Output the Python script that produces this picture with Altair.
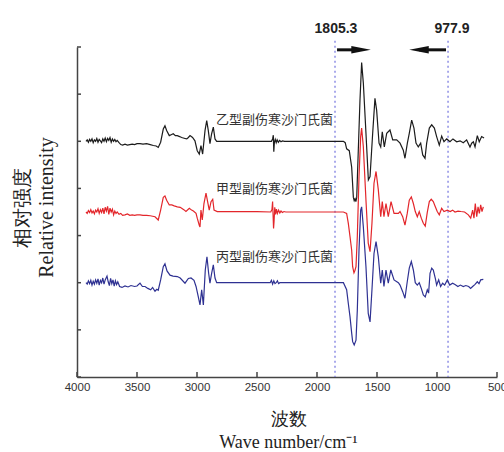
import altair as alt
import pandas as pd

# ---- data (wave number, relative intensity) ----
black_pts = [[3925,5.00],[3915,5.03],[3905,4.98],[3895,5.04],[3885,5.00],[3875,5.05],[3865,4.97],[3855,5.03],
    [3845,5.00],[3835,5.06],[3825,4.98],[3815,5.04],[3805,5.01],[3795,4.97],[3785,5.05],[3775,5.00],[3765,5.07],
    [3755,4.99],[3745,5.06],[3735,5.02],[3725,5.08],[3715,4.98],[3705,5.05],[3695,5.00],[3685,5.04],[3675,4.99],
    [3665,5.02],[3650,4.97],[3635,4.93],[3620,4.92],[3600,4.94],[3580,4.92],[3560,4.93],[3540,4.94],[3520,4.93],
    [3500,4.95],[3475,4.95],[3450,4.94],[3420,4.95],[3390,4.93],[3364,4.91],[3340,4.90],[3323,4.87],[3303,4.98],
    [3281,5.26],[3267,5.33],[3253,5.23],[3231,5.12],[3215,5.14],[3198,5.16],[3180,5.12],[3164,5.12],[3145,5.10],
    [3128,5.08],[3100,5.06],[3085,5.05],[3072,5.08],[3058,5.12],[3037,5.08],[3017,5.01],[2998,4.80],[2981,4.73],
    [2967,4.91],[2953,4.73],[2933,5.23],[2919,5.44],[2906,5.23],[2892,4.95],[2878,5.16],[2864,5.30],[2850,5.05],
    [2836,5.00],[2500,5.00],[2380,5.00],[2370,5.05],[2364,5.13],[2360,4.78],[2355,4.98],[2348,5.04],[2340,4.97],
    [2332,5.03],[2322,4.98],[2312,5.02],[2300,4.99],[2288,5.01],[2270,5.00],[1780,5.00],[1765,4.97],[1753,4.84],
    [1731,4.80],[1711,4.45],[1697,3.81],[1690,3.74],[1683,3.78],[1676,3.72],[1669,3.81],[1656,4.80],[1642,5.86],
    [1628,6.67],[1614,6.24],[1592,5.17],[1572,4.18],[1558,4.25],[1536,5.17],[1517,5.91],[1503,5.66],[1483,4.96],
    [1469,4.88],[1456,5.20],[1439,4.88],[1419,5.17],[1392,5.24],[1369,5.03],[1336,5.03],[1308,4.96],[1281,4.81],
    [1267,4.64],[1247,4.96],[1231,5.17],[1211,5.45],[1192,5.28],[1175,4.96],[1156,4.88],[1136,4.96],[1119,4.71],
    [1100,4.64],[1086,4.96],[1064,5.28],[1044,5.35],[1022,5.28],[1003,5.10],[981,4.92],[961,5.11],[942,4.99],
    [919,5.05],[892,4.99],[867,5.05],[836,4.99],[808,5.01],[781,4.97],[753,5.03],[725,4.88],[711,4.96],[697,4.99],
    [683,4.88],[664,5.12],[648,4.99],[628,5.10],[608,5.07]]

red_pts = [[3925,3.50],[3915,3.47],[3905,3.53],[3895,3.49],[3885,3.55],[3875,3.48],[3865,3.52],[3855,3.46],
    [3845,3.54],[3835,3.50],[3825,3.57],[3815,3.47],[3805,3.55],[3795,3.49],[3785,3.58],[3775,3.46],[3765,3.60],
    [3755,3.52],[3745,3.62],[3735,3.45],[3725,3.58],[3715,3.50],[3705,3.56],[3695,3.44],[3685,3.52],[3675,3.47],
    [3665,3.50],[3650,3.45],[3635,3.47],[3620,3.43],[3600,3.44],[3580,3.46],[3560,3.43],[3540,3.44],[3520,3.43],
    [3500,3.44],[3475,3.44],[3450,3.43],[3420,3.43],[3390,3.42],[3350,3.40],[3323,3.33],[3303,3.54],[3281,3.81],
    [3267,3.84],[3253,3.75],[3231,3.65],[3210,3.65],[3190,3.63],[3164,3.61],[3140,3.60],[3128,3.58],[3110,3.55],
    [3092,3.51],[3064,3.58],[3045,3.54],[3030,3.52],[3008,3.47],[2998,3.37],[2981,3.22],[2975,3.18],[2967,3.54],
    [2956,3.33],[2942,3.68],[2925,3.90],[2910,3.70],[2898,3.54],[2883,3.72],[2869,3.77],[2858,3.54],[2831,3.51],
    [2500,3.51],[2385,3.50],[2375,3.56],[2370,3.72],[2362,3.15],[2358,3.30],[2352,3.60],[2345,3.45],[2338,3.56],
    [2330,3.47],[2320,3.54],[2310,3.48],[2300,3.52],[2288,3.49],[2275,3.51],[2260,3.50],[1780,3.50],[1753,3.47],
    [1739,3.26],[1725,2.98],[1711,2.69],[1703,2.34],[1692,2.21],[1684,2.26],[1675,2.34],[1664,2.98],[1650,4.25],
    [1636,5.10],[1628,5.28],[1614,4.89],[1592,3.75],[1573,2.84],[1558,2.66],[1542,3.26],[1525,4.11],[1508,4.36],
    [1489,3.97],[1469,3.40],[1456,3.72],[1442,3.40],[1425,3.68],[1406,3.40],[1383,3.72],[1358,3.47],[1322,3.47],
    [1308,3.51],[1286,3.40],[1267,3.22],[1248,3.47],[1231,3.75],[1214,3.82],[1197,3.68],[1181,3.51],[1164,3.40],
    [1148,3.51],[1131,3.37],[1114,3.26],[1098,3.20],[1081,3.49],[1064,3.72],[1048,3.77],[1031,3.72],[1014,3.61],
    [998,3.51],[981,3.44],[961,3.58],[942,3.51],[914,3.54],[890,3.51],[870,3.54],[850,3.50],[825,3.52],[800,3.51],
    [770,3.50],[739,3.44],[719,3.37],[703,3.54],[692,3.37],[681,3.68],[669,3.40],[658,3.61],[647,3.47],[636,3.65],
    [625,3.51],[614,3.61]]

blue_pts = [[3925,2.00],[3915,1.97],[3905,2.04],[3895,1.98],[3885,2.05],[3875,1.95],[3865,2.03],[3855,1.97],
    [3845,2.06],[3835,1.99],[3825,2.08],[3815,1.95],[3805,2.05],[3795,2.00],[3785,2.10],[3775,1.97],[3765,2.06],
    [3750,2.14],[3740,2.02],[3730,1.94],[3720,2.09],[3710,1.98],[3700,2.06],[3690,1.93],[3680,2.04],[3670,1.96],
    [3660,2.02],[3645,1.92],[3625,1.90],[3600,1.93],[3575,1.91],[3550,1.94],[3520,1.92],[3500,1.93],[3475,1.99],
    [3455,1.92],[3433,1.92],[3410,1.88],[3386,1.85],[3370,1.90],[3350,1.82],[3335,1.86],[3323,1.84],[3303,2.06],
    [3281,2.34],[3267,2.40],[3250,2.25],[3225,2.16],[3200,2.14],[3164,2.13],[3140,2.10],[3100,1.99],[3072,2.09],
    [3050,2.10],[3025,2.05],[3008,1.92],[2989,1.70],[2975,1.53],[2961,1.85],[2947,1.53],[2931,2.27],[2917,2.55],
    [2903,2.20],[2892,1.99],[2878,2.20],[2864,2.38],[2850,2.10],[2836,2.00],[2450,2.00],[2390,2.00],[2380,2.05],
    [2370,1.97],[2360,2.04],[2350,1.98],[2340,2.00],[2330,2.04],[2320,1.98],[2310,2.00],[1780,2.00],[1753,1.85],
    [1739,1.56],[1725,1.28],[1711,0.93],[1703,0.75],[1690,0.68],[1675,0.78],[1664,1.42],[1650,2.69],[1636,3.54],
    [1628,3.61],[1614,3.19],[1592,2.34],[1573,1.35],[1558,1.17],[1542,1.85],[1525,2.62],[1508,2.87],[1489,2.55],
    [1469,1.99],[1456,2.27],[1442,1.92],[1425,2.27],[1406,1.99],[1385,2.27],[1358,2.06],[1322,2.00],[1308,1.95],
    [1286,1.81],[1267,1.67],[1248,2.02],[1231,2.31],[1214,2.45],[1197,2.27],[1181,2.00],[1164,1.95],[1148,2.00],
    [1131,1.88],[1114,1.74],[1098,1.70],[1081,1.85],[1070,1.78],[1058,2.20],[1044,2.31],[1031,2.27],[1014,2.09],
    [1003,1.95],[986,2.06],[970,1.92],[953,1.99],[936,1.95],[914,2.06],[894,1.95],[870,1.99],[850,1.96],[826,1.92],
    [805,1.95],[781,1.92],[760,1.94],[736,1.92],[720,1.88],[703,1.92],[685,1.96],[664,2.02],[650,1.98],[636,2.06],
    [614,2.07]]

series_names = ["乙型副伤寒沙门氏菌", "甲型副伤寒沙门氏菌", "丙型副伤寒沙门氏菌"]
series_colors = ["#1c1c1c", "#e3262b", "#2e3192"]
label_w = [1867, 1867, 1867]
label_v = [5.45, 3.99, 2.55]

x_ticks = [4000, 3500, 3000, 2500, 2000, 1500, 1000, 500]
y_ticks = [0, 1, 2, 3, 4, 5, 6, 7]

guide_w = [1850, 908]          # dotted marker lines
guide_text = ["1805.3", "977.9"]
guide_text_w = [1842, 875]
guide_top = 7.13
arrow_v = 6.94
arrow_shaft_right = [1833, 1650]
arrow_shaft_left = [1150, 925]
arrow_head_w = [1633, 1150]

# ---- build tables ----
rows = []
for name, pts in zip(series_names, [black_pts, red_pts, blue_pts]):
    for i, (w, v) in enumerate(pts):
        rows.append({"series": name, "w": w, "v": v, "i": i})
df = pd.DataFrame(rows)

W, H = 420, 330
xs = alt.Scale(domain=[4000, 500], nice=False, zero=False)
ys = alt.Scale(domain=[0, 7], nice=False, zero=False)
color = alt.Color("series:N", scale=alt.Scale(domain=series_names, range=series_colors), legend=None)

x_axis = alt.Axis(
    values=x_ticks, format="d", ticks=False, grid=False, labelFlush=False,
    labelFont="Liberation Sans", labelFontSize=11.5, labelColor="#333", labelPadding=4,
    domainColor="#444", domainWidth=1.5,
    title=["波数", "Wave number/cm⁻¹"], titleFont="Liberation Serif", titleFontSize=18,
    titleFontWeight="normal", titleColor="#222", titleLineHeight=23,
    titleX=W / 2 + 1, titleY=42, titleBaseline="middle", titleAlign="center")
y_axis = alt.Axis(
    values=y_ticks, labels=False, ticks=False, grid=False,
    domainColor="#444", domainWidth=1.5,
    title=["相对强度", "Relative intensity"], titleFont="Liberation Serif", titleFontSize=20,
    titleFontWeight="normal", titleColor="#222", titleLineHeight=24,
    titleAngle=270, titleX=-55, titleY=160, titleBaseline="middle", titleAlign="center")


def X(field):
    return alt.X(field, scale=xs, axis=x_axis)


def Y(field):
    return alt.Y(field, scale=ys, axis=y_axis)


lines = alt.Chart(df).mark_line(strokeWidth=1.2).encode(
    x=X("w:Q"), y=Y("v:Q"), color=color, detail="series:N", order="i:Q")

xt = alt.Chart(pd.DataFrame({"w": x_ticks})).mark_rule(color="#444", strokeWidth=1.5).encode(
    x=X("w:Q"), y=alt.value(H), y2=alt.value(H - 5))
yt = alt.Chart(pd.DataFrame({"v": y_ticks})).mark_rule(color="#444", strokeWidth=1.5).encode(
    y=Y("v:Q"), x=alt.value(0), x2=alt.value(4))

guides = alt.Chart(pd.DataFrame({"w": guide_w, "top": [guide_top] * 2, "bot": [0, 0]})).mark_rule(
    color="#7d7de0", strokeDash=[2, 3], strokeWidth=1.3).encode(
    x=X("w:Q"), y=Y("top:Q"), y2="bot:Q")

gtext = alt.Chart(pd.DataFrame({"w": guide_text_w, "t": guide_text, "v": [7.38, 7.38]})).mark_text(
    font="Liberation Sans", fontSize=14, fontWeight="bold", color="#222", baseline="middle").encode(
    x=X("w:Q"), y=Y("v:Q"), text="t:N")

shafts = alt.Chart(pd.DataFrame({"w": [arrow_shaft_right[0], arrow_shaft_left[0]],
                                 "w2": [arrow_shaft_right[1], arrow_shaft_left[1]],
                                 "v": [arrow_v, arrow_v]})).mark_rule(
    color="#111", strokeWidth=3).encode(x=X("w:Q"), x2="w2:Q", y=Y("v:Q"))

head_r = alt.Chart(pd.DataFrame({"w": [arrow_head_w[0]], "v": [arrow_v]})).mark_point(
    shape="M -1 -0.38 L 1 0 L -1 0.38 Z", filled=True, color="#111", opacity=1, size=380).encode(
    x=X("w:Q"), y=Y("v:Q"))
head_l = alt.Chart(pd.DataFrame({"w": [arrow_head_w[1]], "v": [arrow_v]})).mark_point(
    shape="M 1 -0.38 L -1 0 L 1 0.38 Z", filled=True, color="#111", opacity=1, size=380).encode(
    x=X("w:Q"), y=Y("v:Q"))

labels = alt.Chart(pd.DataFrame({"w": label_w, "v": label_v, "t": series_names})).mark_text(
    font="Noto Sans CJK SC", fontSize=13, color="#333", align="right", baseline="middle").encode(
    x=X("w:Q"), y=Y("v:Q"), text="t:N")

chart = alt.layer(guides, lines, xt, yt, shafts, head_r, head_l, gtext, labels).properties(
    width=W, height=H,
    autosize=alt.AutoSizeParams(type="none"),
    padding={"left": 77, "top": 47, "right": 7, "bottom": 75},
    background="white",
).configure_view(strokeWidth=0)

chart.save("out.html", embed_options={"renderer": "svg", "actions": False})
